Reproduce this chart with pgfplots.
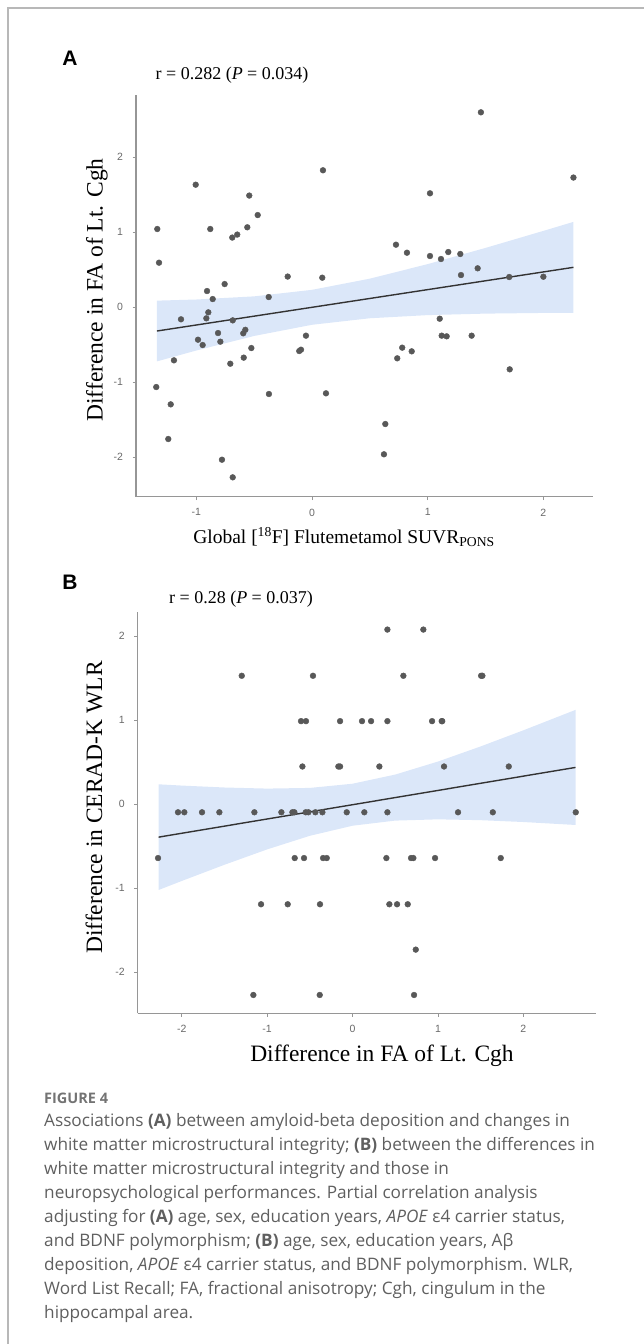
\documentclass[border=0pt]{standalone}
\usepackage{pgfplots}
\pgfplotsset{compat=1.18}
\usepackage{fontspec}
\setmainfont{Liberation Serif}
\setsansfont{Liberation Sans}
\newfontfamily\capfont{Open Sans}

\definecolor{ptcol}{RGB}{88,88,88}
\definecolor{bandcol}{RGB}{165,195,240}
\definecolor{axgray}{RGB}{150,150,150}
\definecolor{tickgray}{RGB}{105,105,105}
\definecolor{capgray}{RGB}{95,95,95}

\pgfplotsset{
  panel/.style={
    scale only axis, anchor=south west,
    axis x line*=bottom, axis y line*=left,
    axis line style={axgray, line width=1.1pt, -},
    tick align=outside, major tick length=3.5pt,
    tick style={axgray, line width=0.8pt},
    ticklabel style={font=\sffamily\fontsize{10.5}{12}\selectfont, text=tickgray},
    /pgf/number format/assume math mode=true,
    yticklabel style={xshift=-6pt},
    xticklabel style={yshift=-5pt},
  },
  pts/.style={only marks, color=ptcol, mark=*, mark size=2.9pt, mark options={solid, draw=ptcol, fill=ptcol, line width=0.4pt}},
  band/.style={fill=bandcol, fill opacity=0.4, draw=none},
  fit/.style={color=black!80, line width=1.4pt},
}

\begin{document}
\begin{tikzpicture}[x=1pt,y=1pt]
\path[use as bounding box] (0,0) rectangle (644,1344);
\draw[black!28, line width=1.4pt] (8,0) -- (8,1336) -- (644,1336);

% panel A
\begin{axis}[panel, at={(136pt,847.3pt)}, width=457pt, height=401.7pt,
  xmin=-1.521, xmax=2.429, ymin=-2.525, ymax=2.831,
  xtick={-1,0,1,2}, ytick={-2,-1,0,1,2}]
\addplot[pts] coordinates {
(-1.337,1.044) (-1.322,0.595) (-1.005,1.635) (-0.879,1.044) (-0.689,0.93)
(-0.646,0.97) (-0.559,1.067) (-0.542,1.49) (-0.469,1.23) (0.095,1.827)
(-0.21,0.41) (0.089,0.395) (-0.755,0.31) (-0.907,0.217) (1.46,2.60)
(1.02,1.52) (2.26,1.73) (0.726,0.835) (0.821,0.728) (1.02,0.684)
(1.115,0.644) (1.178,0.737) (1.282,0.711) (1.288,0.43) (1.432,0.52)
(1.705,0.404) (2.0,0.408) (-0.858,0.11) (-0.896,-0.067) (-0.913,-0.147)
(-1.132,-0.16) (-0.685,-0.174) (-0.374,0.137) (-0.576,-0.30) (-0.594,-0.347)
(-0.812,-0.343) (-0.985,-0.432) (-0.945,-0.503) (-0.792,-0.458) (-0.524,-0.543)
(-0.59,-0.671) (-0.706,-0.752) (-1.193,-0.707) (-0.052,-0.378) (-0.11,-0.583)
(-0.095,-0.565) (-1.346,-1.063) (-0.372,-1.156) (0.121,-1.147) (-1.221,-1.294)
(-1.242,-1.756) (-0.778,-2.032) (-0.685,-2.267) (1.104,-0.152) (1.121,-0.378)
(1.164,-0.387) (1.38,-0.378) (0.78,-0.538) (0.737,-0.68) (0.862,-0.587)
(1.709,-0.827) (0.634,-1.556) (0.622,-1.96)
};
\addplot[band] coordinates {
(-1.34,0.089) (-1,0.104) (-0.5,0.146) (0,0.233) (0.5,0.382) (1,0.576)
(1.5,0.792) (2,1.019) (2.26,1.139)
(2.26,-0.073) (2,-0.075) (1.5,-0.084) (1,-0.104) (0.5,-0.146) (0,-0.233)
(-0.5,-0.382) (-1,-0.576) (-1.34,-0.721)
} -- cycle;
\addplot[fit] coordinates {(-1.34,-0.316) (2.26,0.533)};
\end{axis}

% panel B
\begin{axis}[panel, at={(137.7pt,330.7pt)}, width=458.3pt, height=401.6pt,
  xmin=-2.515, xmax=2.85, ymin=-2.488, ymax=2.293,
  xtick={-2,-1,0,1,2}, ytick={-2,-1,0,1,2}]
\addplot[pts] coordinates {
(0.408,2.08) (0.829,2.08)
(-1.297,1.53) (-0.463,1.53) (0.595,1.53) (1.505,1.53) (1.52,1.53)
(-0.603,0.99) (-0.545,0.99) (-0.146,0.99) (0.111,0.99) (0.217,0.99)
(0.408,0.99) (0.931,0.99) (1.044,0.99) (1.05,0.99)
(-0.587,0.45) (-0.166,0.45) (-0.146,0.45) (0.314,0.45) (1.071,0.45) (1.829,0.45)
(-2.043,-0.095) (-1.969,-0.095) (-1.762,-0.095) (-1.559,-0.095) (-1.149,-0.095)
(-0.833,-0.095) (-0.704,-0.095) (-0.681,-0.095) (-0.548,-0.095) (-0.517,-0.095)
(-0.435,-0.095) (-0.353,-0.095) (-0.068,-0.095) (0.138,-0.095) (0.408,-0.095)
(1.235,-0.095) (1.642,-0.095) (2.613,-0.095)
(-2.277,-0.64) (-0.677,-0.64) (-0.568,-0.64) (-0.345,-0.64) (-0.302,-0.64)
(0.396,-0.64) (0.685,-0.64) (0.712,-0.64) (0.966,-0.64) (1.735,-0.64)
(-1.071,-1.19) (-0.759,-1.19) (-0.381,-1.19) (0.431,-1.19) (0.521,-1.19) (0.646,-1.19)
(0.74,-1.73)
(-1.161,-2.27) (-0.384,-2.27) (0.72,-2.27)
};
\addplot[band] coordinates {
(-2.27,0.238) (-2,0.223) (-1.5,0.20) (-1,0.187) (-0.5,0.195) (0,0.245)
(0.5,0.354) (1,0.509) (1.5,0.689) (2,0.881) (2.61,1.124)
(2.61,-0.246) (2,-0.211) (1.5,-0.189) (1,-0.179) (0.5,-0.194) (0,-0.255)
(-0.5,-0.375) (-1,-0.537) (-1.5,-0.72) (-2,-0.913) (-2.27,-1.020)
} -- cycle;
\addplot[fit] coordinates {(-2.27,-0.391) (2.61,0.439)};
\end{axis}

% panel letters, titles, axis labels
\node[font=\sffamily\bfseries\fontsize{21}{21}\selectfont] at (70,1286) {A};
\node[font=\fontsize{18}{20}\selectfont] at (232,1269) {r = 0.282 (\textit{P} = 0.034)};
\node[font=\fontsize{23.5}{26}\selectfont, rotate=90] at (97,1054) {Difference in FA of Lt. Cgh};
\node[font=\fontsize{19.5}{22}\selectfont] at (344,807) {Global [\textsuperscript{18}F] Flutemetamol SUVR\textsubscript{PONS}};

\node[font=\sffamily\bfseries\fontsize{21}{21}\selectfont] at (70,762) {B};
\node[font=\fontsize{18}{20}\selectfont] at (241,745) {r = 0.28 (\textit{P} = 0.037)};
\node[font=\fontsize{23.5}{26}\selectfont, rotate=90] at (94,536.5) {Difference in CERAD-K WLR};
\node[font=\fontsize{23.5}{26}\selectfont] at (382,288) {Difference in FA of Lt. Cgh};

% caption
\begin{scope}[every node/.style={anchor=base west, inner sep=0pt, text=capgray, font=\capfont\fontsize{17.2}{20}\selectfont}]
\node[font=\capfont\bfseries\fontsize{14.5}{16}\selectfont, text=black!55] at (44,240) {FIGURE 4};
\node at (44,217) {Associations \textbf{(A)} between amyloid-beta deposition and changes in};
\node at (44,193) {white matter microstructural integrity; \textbf{(B)} between the differences in};
\node at (44,169) {white matter microstructural integrity and those in};
\node at (44,145) {neuropsychological performances. Partial correlation analysis};
\node at (44,121) {adjusting for \textbf{(A)} age, sex, education years, \textit{APOE} ε4 carrier status,};
\node at (44,97) {and BDNF polymorphism; \textbf{(B)} age, sex, education years, Aβ};
\node at (44,73) {deposition, \textit{APOE} ε4 carrier status, and BDNF polymorphism. WLR,};
\node at (44,49) {Word List Recall; FA, fractional anisotropy; Cgh, cingulum in the};
\node at (44,25) {hippocampal area.};
\end{scope}
\end{tikzpicture}
\end{document}
